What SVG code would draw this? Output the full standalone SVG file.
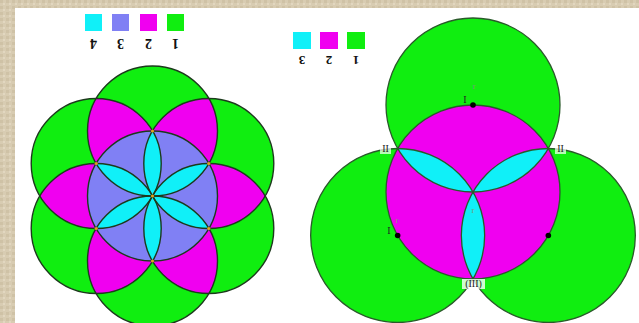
<svg xmlns="http://www.w3.org/2000/svg" width="639" height="323" viewBox="0 0 639 323">
<defs>
<pattern id="tex" width="6" height="6" patternUnits="userSpaceOnUse">
<rect width="6" height="6" fill="#d8ccb2"/>
<rect x="0" y="0" width="3" height="3" fill="#cfc2a6"/>
<rect x="3" y="3" width="2" height="2" fill="#e2d7c0"/>
</pattern>
</defs>
<style>
.g{fill:#10ee10}
.m{fill:#f000f0}
.p{fill:#8080f4}
.c{fill:#10f0f8}
.s{fill:none;stroke:#1c3a1c;stroke-width:1.4}
.s2{fill:none;stroke:#2a5a2a;stroke-width:1.3}
.dot{fill:#e0a020}
.bd{fill:#000}
.dig{font-family:"Liberation Serif",serif;font-weight:bold;fill:#111}
.lab{font-family:"Liberation Serif",serif;font-size:10px;fill:#222}
.fr{font-family:"Liberation Serif",serif;font-size:9px;fill:#7a9a7a}
</style>
<rect width="639" height="323" fill="url(#tex)"/>
<rect x="15" y="8" width="624" height="315" fill="#ffffff"/>

<g id="legend-left">
<rect x="85" y="14" width="17" height="17" class="c"/>
<rect x="112" y="14" width="17" height="17" class="p"/>
<rect x="140" y="14" width="17" height="17" class="m"/>
<rect x="167" y="14" width="17" height="17" class="g"/>
<text class="dig" font-size="14" x="93.5" y="49" text-anchor="middle" transform="rotate(180 93.5 44)">4</text>
<text class="dig" font-size="14" x="120.5" y="49" text-anchor="middle" transform="rotate(180 120.5 44)">3</text>
<text class="dig" font-size="14" x="148.5" y="49" text-anchor="middle" transform="rotate(180 148.5 44)">2</text>
<text class="dig" font-size="14" x="175.5" y="49" text-anchor="middle" transform="rotate(180 175.5 44)">1</text>
</g>

<g id="legend-right">
<rect x="293" y="32" width="18" height="17" class="c"/>
<rect x="320" y="32" width="18" height="17" class="m"/>
<rect x="347" y="32" width="18" height="17" class="g"/>
<text class="dig" font-size="13" x="302" y="65" text-anchor="middle" transform="rotate(180 302 60.5)">3</text>
<text class="dig" font-size="13" x="329" y="65" text-anchor="middle" transform="rotate(180 329 60.5)">2</text>
<text class="dig" font-size="13" x="356" y="65" text-anchor="middle" transform="rotate(180 356 60.5)">1</text>
</g>

<g id="figure-left">
<g class="g">
<circle cx="152.5" cy="131" r="65"/>
<circle cx="208.79" cy="163.5" r="65"/>
<circle cx="208.79" cy="228.5" r="65"/>
<circle cx="152.5" cy="261" r="65"/>
<circle cx="96.21" cy="228.5" r="65"/>
<circle cx="96.21" cy="163.5" r="65"/>
</g>
<g class="m">
<path d="M152.5 196A65 65 0 0 1 208.79 98.5A65 65 0 0 1 152.5 196Z"/>
<path d="M152.5 196A65 65 0 0 1 265.08 196A65 65 0 0 1 152.5 196Z"/>
<path d="M152.5 196A65 65 0 0 1 208.79 293.5A65 65 0 0 1 152.5 196Z"/>
<path d="M152.5 196A65 65 0 0 1 96.21 293.5A65 65 0 0 1 152.5 196Z"/>
<path d="M152.5 196A65 65 0 0 1 39.92 196A65 65 0 0 1 152.5 196Z"/>
<path d="M152.5 196A65 65 0 0 1 96.21 98.5A65 65 0 0 1 152.5 196Z"/>
</g>
<circle cx="152.5" cy="196" r="65" class="p"/>
<g class="c">
<path d="M152.5 196A65 65 0 0 1 152.5 131A65 65 0 0 1 152.5 196Z"/>
<path d="M152.5 196A65 65 0 0 1 208.79 163.5A65 65 0 0 1 152.5 196Z"/>
<path d="M152.5 196A65 65 0 0 1 208.79 228.5A65 65 0 0 1 152.5 196Z"/>
<path d="M152.5 196A65 65 0 0 1 152.5 261A65 65 0 0 1 152.5 196Z"/>
<path d="M152.5 196A65 65 0 0 1 96.21 228.5A65 65 0 0 1 152.5 196Z"/>
<path d="M152.5 196A65 65 0 0 1 96.21 163.5A65 65 0 0 1 152.5 196Z"/>
</g>
<g class="s">
<circle cx="152.5" cy="196" r="65"/>
<circle cx="152.5" cy="131" r="65"/>
<circle cx="208.79" cy="163.5" r="65"/>
<circle cx="208.79" cy="228.5" r="65"/>
<circle cx="152.5" cy="261" r="65"/>
<circle cx="96.21" cy="228.5" r="65"/>
<circle cx="96.21" cy="163.5" r="65"/>
</g>
<g class="dot">
<circle cx="152.5" cy="196" r="1.6"/>
<circle cx="152.5" cy="131" r="1.6"/>
<circle cx="208.79" cy="163.5" r="1.6"/>
<circle cx="208.79" cy="228.5" r="1.6"/>
<circle cx="152.5" cy="261" r="1.6"/>
<circle cx="96.21" cy="228.5" r="1.6"/>
<circle cx="96.21" cy="163.5" r="1.6"/>
</g>
</g>

<g id="figure-right">
<g class="g">
<circle cx="473" cy="105" r="87"/>
<circle cx="397.66" cy="235.5" r="87"/>
<circle cx="548.34" cy="235.5" r="87"/>
</g>
<circle cx="473" cy="192" r="87" class="m"/>
<g class="c">
<path d="M473 192A87 87 0 0 1 548.34 148.5A87 87 0 0 1 473 192Z"/>
<path d="M473 192A87 87 0 0 1 397.66 148.5A87 87 0 0 1 473 192Z"/>
<path d="M473 192A87 87 0 0 1 473 279A87 87 0 0 1 473 192Z"/>
</g>
<g class="s2">
<circle cx="473" cy="192" r="87"/>
<circle cx="473" cy="105" r="87"/>
<circle cx="397.66" cy="235.5" r="87"/>
<circle cx="548.34" cy="235.5" r="87"/>
</g>
<g class="bd">
<circle cx="473" cy="105" r="2.8"/>
<circle cx="397.66" cy="235.5" r="2.8"/>
<circle cx="548.34" cy="235.5" r="2.8"/>
</g>
<text class="lab" x="465" y="103" text-anchor="middle">I</text>
<text class="fr" x="474" y="89" text-anchor="middle">r</text>
<text class="lab" x="389" y="234" text-anchor="middle">I</text>
<text class="fr" x="397" y="223" text-anchor="middle">r</text>
<text class="fr" x="473" y="213" text-anchor="middle">r</text>
<rect x="380" y="144" width="11" height="10" fill="#ffffff" opacity="0.7"/>
<text class="lab" x="385.5" y="152" text-anchor="middle">II</text>
<rect x="555" y="144" width="11" height="10" fill="#ffffff" opacity="0.7"/>
<text class="lab" x="560.5" y="152" text-anchor="middle">II</text>
<rect x="462" y="279" width="23" height="10" fill="#ffffff" opacity="0.8"/>
<text class="lab" x="473.5" y="287" text-anchor="middle">(III)</text>
</g>
</svg>
